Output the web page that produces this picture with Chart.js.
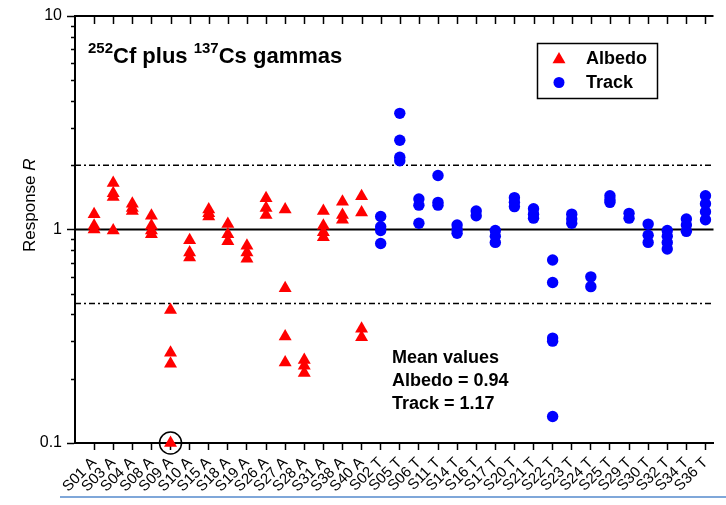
<!DOCTYPE html>
<html>
<head>
<meta charset="utf-8">
<script src="https://cdn.jsdelivr.net/npm/chart.js"></script>
<style>
html,body{margin:0;padding:0;background:#fff;overflow:hidden}
#wrap{position:relative;width:726px;height:505px}
#bline{position:absolute;left:60px;right:0;top:496px;height:2px;background:#7fa7d9}
</style>
</head>
<body>
<div id="wrap"><canvas id="c" width="726" height="505"></canvas><div id="bline"></div></div>
<script>
// ---- data ----
const albedoCats = ['S01 A','S03 A','S04 A','S08 A','S09 A','S10 A','S15 A','S18 A','S19 A','S26 A','S27 A','S28 A','S31 A','S38 A','S40 A'];
const albedoValues = [
  [1.18, 1.04, 1.0],
  [1.65, 1.48, 1.42, 0.99],
  [1.32, 1.26, 1.22],
  [1.16, 1.04, 0.99, 0.95],
  [0.42, 0.265, 0.235, 0.1],
  [0.89, 0.78, 0.74],
  [1.24, 1.19, 1.15],
  [1.06, 0.95, 0.88],
  [0.84, 0.78, 0.73],
  [1.40, 1.26, 1.17],
  [1.24, 0.53, 0.315, 0.238],
  [0.245, 0.23, 0.213],
  [1.22, 1.04, 0.97, 0.92],
  [1.35, 1.17, 1.11],
  [1.43, 1.20, 0.343, 0.313]
];
const trackCats = ['S02 T','S05 T','S06 T','S11 T','S14 T','S16 T','S17 T','S20 T','S21 T','S22 T','S23 T','S24 T','S25 T','S29 T','S30 T','S32 T','S34 T','S36 T'];
const trackValues = [
  [1.15, 1.03, 0.99, 0.86],
  [3.5, 2.62, 2.18, 2.1],
  [1.39, 1.3, 1.07],
  [1.79, 1.34, 1.3],
  [1.05, 1.0, 0.96],
  [1.22, 1.16],
  [0.99, 0.93, 0.87],
  [1.41, 1.34, 1.28],
  [1.25, 1.18, 1.13],
  [0.72, 0.565, 0.31, 0.30, 0.133],
  [1.18, 1.12, 1.07],
  [0.6, 0.54],
  [1.44, 1.38, 1.34],
  [1.19, 1.13],
  [1.06, 0.94, 0.87],
  [0.99, 0.93, 0.87, 0.81],
  [1.12, 1.05, 0.98],
  [1.44, 1.32, 1.21, 1.11]
];
const yTickValues = [0.1,0.2,0.3,0.4,0.5,0.6,0.7,0.8,0.9,1,2,3,4,5,6,7,8,9,10];
const yTickLabels = {'0.1':'0.1','1':'1','10':'10'};
const refUnity = 1;
const refUpper = 2;
const refLower = 0.45;
const markedCat = 'S09 A';
const markedValue = 0.1;
const meanLines = ['Mean values','Albedo = 0.94','Track = 1.17'];
const seriesNames = ['Albedo','Track'];

// ---- build ----
const cats = albedoCats.concat(trackCats);
const xMin = -1, xMax = 32.42;
const albedoPts = albedoValues.flatMap((vals,i)=>vals.map(v=>({x:i,y:v})));
const trackPts = trackValues.flatMap((vals,j)=>vals.map(v=>({x:albedoCats.length+j,y:v})));
const FONT = 'Liberation Sans, Arial, Helvetica, sans-serif';
Chart.defaults.font.family = FONT;
Chart.defaults.color = '#000';

function hline(v, dash, w){
  return {type:'scatter', data:[{x:xMin,y:v},{x:xMax,y:v}], showLine:true, borderColor:'#000',
    borderWidth:w, borderDash:dash, pointRadius:0, order:10, clip:false};
}

const decor = {
  id:'decor',
  afterDraw(chart){
    const {ctx, chartArea:a, scales:{x,y}} = chart;
    ctx.save();
    ctx.strokeStyle='#000'; ctx.fillStyle='#000';
    // minor y ticks
    ctx.lineWidth=1.5;
    yTickValues.forEach(v=>{
      if(!yTickLabels[String(v)]){
        const py=Math.round(y.getPixelForValue(v))+0.5;
        ctx.beginPath(); ctx.moveTo(a.left-4,py); ctx.lineTo(a.left,py); ctx.stroke();
      }
    });
    // top axis
    ctx.lineWidth=2;
    ctx.beginPath(); ctx.moveTo(a.left-1,a.top); ctx.lineTo(a.right,a.top); ctx.stroke();
    ctx.lineWidth=1.5;
    cats.forEach((c,i)=>{
      const px=Math.round(x.getPixelForValue(i))+0.5;
      ctx.beginPath(); ctx.moveTo(px,a.top); ctx.lineTo(px,a.top+8); ctx.stroke();
    });
    // title
    ctx.textBaseline='alphabetic'; ctx.textAlign='left';
    let tx = 88;
    const parts = [['252',true],['Cf plus ',false],['137',true],['Cs gammas',false]];
    parts.forEach(([t,sup])=>{
      ctx.font = sup ? 'bold 15px '+FONT : 'bold 22px '+FONT;
      ctx.fillText(t, tx, sup ? 53 : 63);
      tx += ctx.measureText(t).width;
    });
    // y axis title
    ctx.save();
    ctx.translate(35, 252);
    ctx.rotate(-Math.PI/2);
    ctx.font = '17px '+FONT;
    ctx.fillText('Response ', 0, 0);
    const w1 = ctx.measureText('Response ').width;
    ctx.font = 'italic 17px '+FONT;
    ctx.fillText('R', w1, 0);
    ctx.restore();
    // legend
    ctx.lineWidth=1.5;
    ctx.strokeRect(537.5, 43.5, 120, 55);
    ctx.fillStyle='#ff0000';
    const lx=559, ly=59.5, r=7.5;
    ctx.beginPath();
    ctx.moveTo(lx, ly-r); ctx.lineTo(lx+0.866*r, ly+0.5*r); ctx.lineTo(lx-0.866*r, ly+0.5*r); ctx.closePath(); ctx.fill();
    ctx.fillStyle='#0000ff';
    ctx.beginPath(); ctx.arc(559, 82.5, 5.5, 0, Math.PI*2); ctx.fill();
    ctx.fillStyle='#000';
    ctx.font='bold 18px '+FONT; ctx.textBaseline='middle';
    ctx.fillText(seriesNames[0], 586, 59.5);
    ctx.fillText(seriesNames[1], 586, 83);
    // mean text
    ctx.textBaseline='alphabetic';
    const ys=[363,386,409];
    meanLines.forEach((t,i)=>ctx.fillText(t, 392, ys[i]));
    ctx.restore();
  }
};

new Chart(document.getElementById('c'), {
  type:'scatter',
  data:{datasets:[
    {label:'marker', data:[{x:albedoCats.indexOf(markedCat), y:markedValue}], pointStyle:'circle', pointRadius:11,
      pointBackgroundColor:'rgba(0,0,0,0)', pointBorderColor:'#000', pointBorderWidth:1.5, order:0, clip:false},
    {label:seriesNames[0], data:albedoPts, pointStyle:'triangle', pointRadius:7.5, pointBackgroundColor:'#ff0000',
      pointBorderColor:'#ff0000', pointBorderWidth:0, order:2, clip:false},
    {label:seriesNames[1], data:trackPts, pointStyle:'circle', pointRadius:5.7, pointBackgroundColor:'#0000ff',
      pointBorderColor:'#0000ff', pointBorderWidth:0, order:1, clip:false},
    hline(refUnity, [], 2),
    hline(refUpper, [6,3,2,3], 1.5),
    hline(refLower, [6,3,2,3], 1.5)
  ]},
  options:{
    responsive:false, animation:false, devicePixelRatio:1,
    layout:{padding:{top:16,left:0,right:0,bottom:0}},
    plugins:{legend:{display:false}, tooltip:{enabled:false}},
    scales:{
      x:{type:'linear', min:xMin, max:xMax,
        afterBuildTicks:s=>{ s.ticks = cats.map((c,i)=>({value:i})); },
        afterFit:s=>{ s.height = 62; },
        ticks:{autoSkip:false, maxRotation:45, minRotation:45, padding:4, color:'#000',
          font:{size:15}, callback:v=>cats[v] ?? ''},
        grid:{display:true, drawOnChartArea:false, drawTicks:true, tickLength:7, tickColor:'#000', tickWidth:1.5},
        border:{display:true, color:'#000', width:2}
      },
      y:{type:'logarithmic', min:0.1, max:10,
        afterBuildTicks:s=>{ s.ticks = yTickValues.map(v=>({value:v})); },
        afterFit:s=>{ s.width = 75; },
        ticks:{autoSkip:false, padding:5, color:'#000', font:{size:16},
          callback:v=>yTickLabels[String(v)] ?? ''},
        grid:{display:true, drawOnChartArea:false, drawTicks:true, tickLength:8, tickWidth:1.5,
          tickColor:ctx=> (ctx.tick && yTickLabels[String(ctx.tick.value)]) ? '#000' : 'rgba(0,0,0,0)'},
        border:{display:true, color:'#000', width:2}
      }
    }
  },
  plugins:[decor]
});
</script>
</body>
</html>
